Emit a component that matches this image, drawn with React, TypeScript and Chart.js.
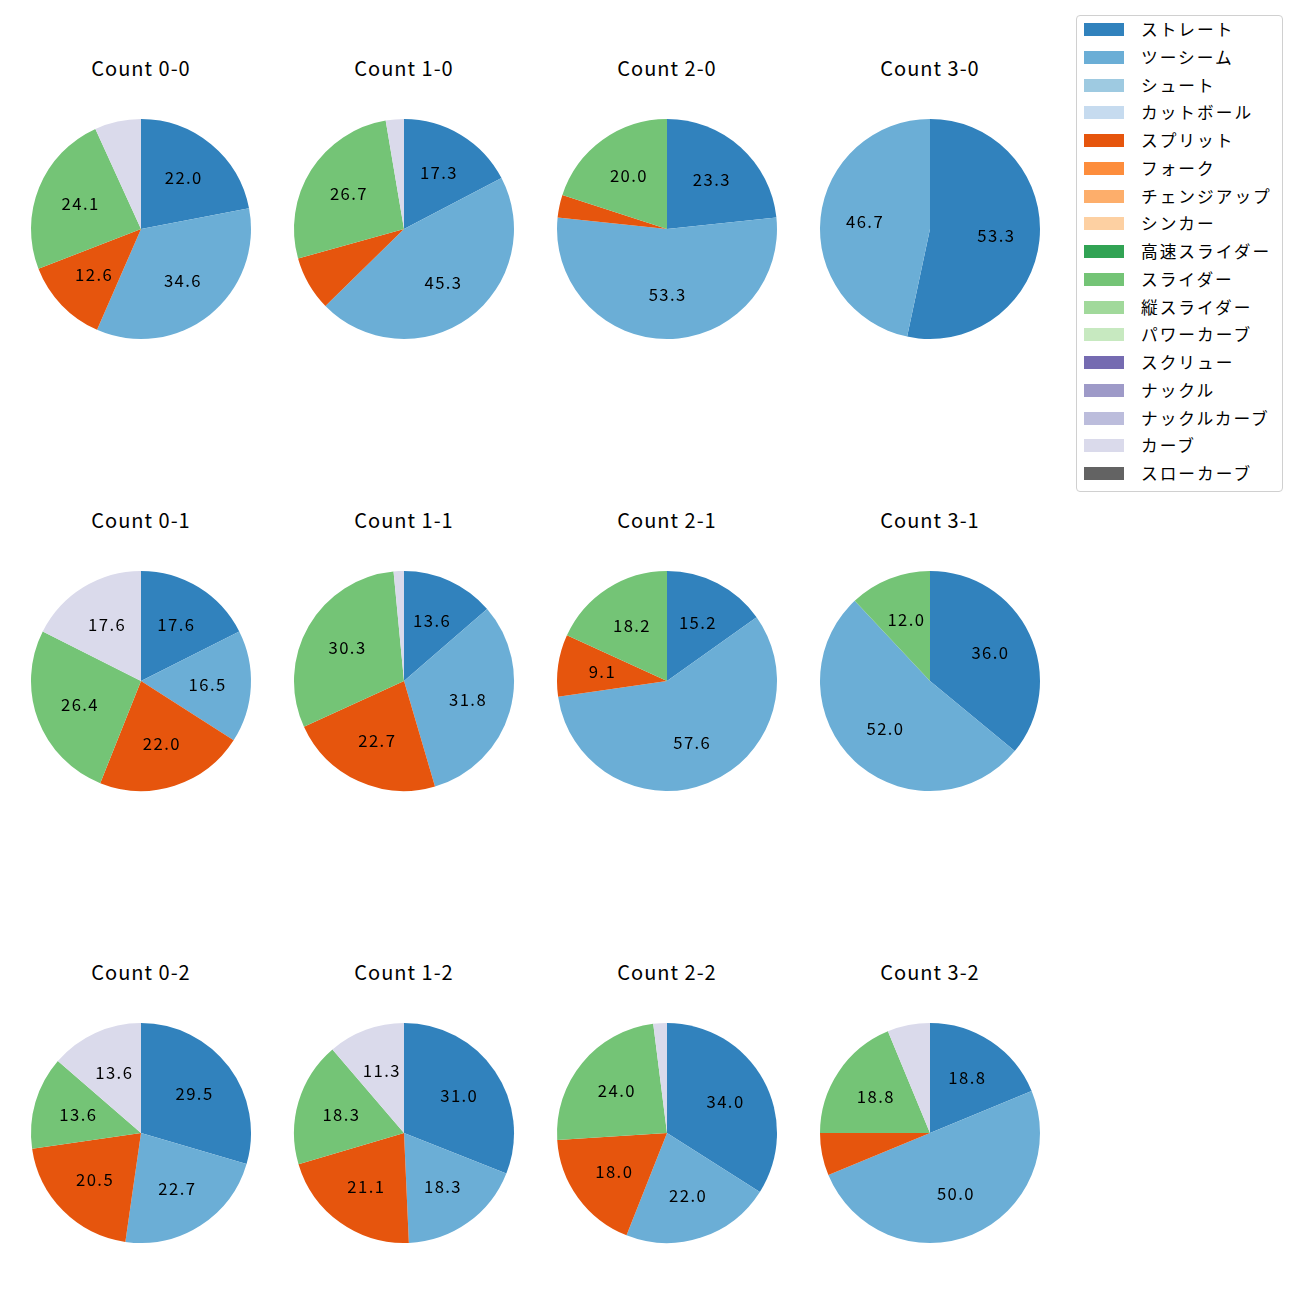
import React, { useEffect, useRef } from "react";
import { Chart, registerables } from "chart.js";

Chart.register(...registerables);

const pitchTypes = [
  "ストレート", "ツーシーム", "シュート", "カットボール", "スプリット", "フォーク",
  "チェンジアップ", "シンカー", "高速スライダー", "スライダー", "縦スライダー",
  "パワーカーブ", "スクリュー", "ナックル", "ナックルカーブ", "カーブ", "スローカーブ",
];
const pitchColors = [
  "#3182bd", "#6baed6", "#9ecae1", "#c6dbef", "#e6550d", "#fd8d3c", "#fdae6b",
  "#fdd0a2", "#31a354", "#74c476", "#a1d99b", "#c7e9c0", "#756bb1", "#9e9ac8",
  "#bcbddc", "#dadaeb", "#636363",
];

const countLabels = ["0-0", "1-0", "2-0", "3-0", "0-1", "1-1", "2-1", "3-1", "0-2", "1-2", "2-2", "3-2"];

// pitch counts in pitchTypes order (consistent with the printed percentages)
const count00 = [42, 66, 0, 0, 24, 0, 0, 0, 0, 46, 0, 0, 0, 0, 0, 13, 0];
const count10 = [13, 34, 0, 0, 6, 0, 0, 0, 0, 20, 0, 0, 0, 0, 0, 2, 0];
const count20 = [7, 16, 0, 0, 1, 0, 0, 0, 0, 6, 0, 0, 0, 0, 0, 0, 0];
const count30 = [8, 7, 0, 0, 0, 0, 0, 0, 0, 0, 0, 0, 0, 0, 0, 0, 0];
const count01 = [16, 15, 0, 0, 20, 0, 0, 0, 0, 24, 0, 0, 0, 0, 0, 16, 0];
const count11 = [9, 21, 0, 0, 15, 0, 0, 0, 0, 20, 0, 0, 0, 0, 0, 1, 0];
const count21 = [5, 19, 0, 0, 3, 0, 0, 0, 0, 6, 0, 0, 0, 0, 0, 0, 0];
const count31 = [9, 13, 0, 0, 0, 0, 0, 0, 0, 3, 0, 0, 0, 0, 0, 0, 0];
const count02 = [13, 10, 0, 0, 9, 0, 0, 0, 0, 6, 0, 0, 0, 0, 0, 6, 0];
const count12 = [22, 13, 0, 0, 15, 0, 0, 0, 0, 13, 0, 0, 0, 0, 0, 8, 0];
const count22 = [17, 11, 0, 0, 9, 0, 0, 0, 0, 12, 0, 0, 0, 0, 0, 1, 0];
const count32 = [6, 16, 0, 0, 2, 0, 0, 0, 0, 6, 0, 0, 0, 0, 0, 2, 0];

const countValues = [count00, count10, count20, count30, count01, count11, count21, count31, count02, count12, count22, count32];

const FONT = "'Noto Sans CJK JP', 'Noto Sans', sans-serif";
const colCenters = [141, 404, 667, 930];
const rowCenters = [229, 681, 1133];

const pctLabelPlugin = {
  id: "pctLabels",
  afterDatasetsDraw(chart: any) {
    const ctx = chart.ctx;
    const meta = chart.getDatasetMeta(0);
    const data = chart.data.datasets[0].data as number[];
    const total = data.reduce((a, b) => a + b, 0);
    ctx.save();
    ctx.font = `16.7px ${FONT}`;
    try {
      (ctx as any).letterSpacing = "1.4px";
    } catch (e) {}
    ctx.fillStyle = "#000";
    ctx.textAlign = "center";
    ctx.textBaseline = "middle";
    meta.data.forEach((arc: any, i: number) => {
      const pct = (data[i] / total) * 100;
      if (pct < 9) return;
      const mid = (arc.startAngle + arc.endAngle) / 2;
      const r = arc.outerRadius * 0.6;
      ctx.fillText(pct.toFixed(1), arc.x + Math.cos(mid) * r + 0.7, arc.y + Math.sin(mid) * r);
    });
    ctx.restore();
  },
};

function Pie({ values, cx, cy }: { values: number[]; cx: number; cy: number }) {
  const ref = useRef<HTMLCanvasElement>(null);
  useEffect(() => {
    if (!ref.current) return;
    const chart = new Chart(ref.current, {
      type: "pie",
      data: {
        labels: pitchTypes,
        datasets: [{ data: values, backgroundColor: pitchColors, borderWidth: 0 }],
      },
      options: {
        responsive: false,
        animation: false,
        layout: { padding: 10 },
        plugins: { legend: { display: false }, tooltip: { enabled: false }, title: { display: false } },
      },
      plugins: [pctLabelPlugin],
    });
    return () => chart.destroy();
  }, [values]);
  return (
    <canvas
      ref={ref}
      width={240}
      height={240}
      style={{ position: "absolute", left: cx - 120, top: cy - 120, width: 240, height: 240 }}
    />
  );
}

export default function App() {
  return (
    <div style={{ position: "absolute", left: 0, top: 0, width: 1300, height: 1300, background: "#fff", fontFamily: FONT }}>
      {countLabels.map((lab, i) => {
        const cx = colCenters[i % 4];
        const cy = rowCenters[Math.floor(i / 4)];
        return (
          <React.Fragment key={lab}>
            <div
              style={{
                position: "absolute",
                left: cx - 100,
                width: 200,
                top: cy - 161 - 14,
                height: 28,
                lineHeight: "28px",
                textAlign: "center",
                fontSize: 20,
                letterSpacing: "1px",
                color: "#000",
              }}
            >
              {"Count " + lab}
            </div>
            <Pie values={countValues[i]} cx={cx} cy={cy} />
          </React.Fragment>
        );
      })}
      <div
        style={{
          position: "absolute",
          left: 1076,
          top: 15,
          width: 205,
          height: 475,
          border: "1px solid #d0d0d0",
          borderRadius: 4,
          background: "#fff",
        }}
      >
        {pitchTypes.map((p, i) => (
          <div key={p} style={{ position: "absolute", left: 0, top: i * 27.75, height: 28, width: 205 }}>
            <div
              style={{
                position: "absolute",
                left: 7,
                top: 7,
                width: 40,
                height: 13,
                background: pitchColors[i],
              }}
            />
            <div
              style={{
                position: "absolute",
                left: 64,
                top: -1,
                height: 28,
                lineHeight: "28px",
                fontSize: 16.7,
                letterSpacing: "2px",
                color: "#000",
                whiteSpace: "nowrap",
              }}
            >
              {p}
            </div>
          </div>
        ))}
      </div>
    </div>
  );
}
